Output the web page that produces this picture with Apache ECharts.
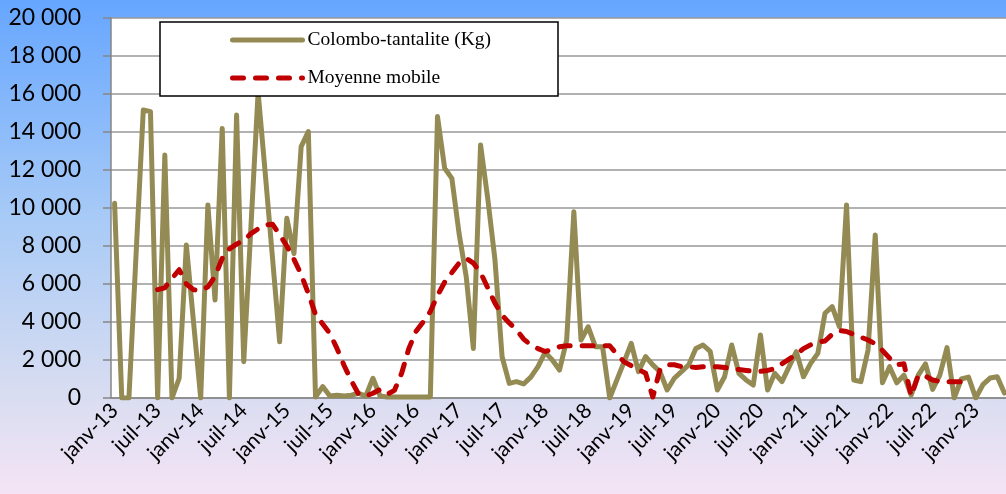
<!DOCTYPE html>
<html>
<head>
<meta charset="utf-8">
<script src="https://cdn.jsdelivr.net/npm/echarts@6/dist/echarts.min.js"></script>
<style>
  html, body { margin: 0; padding: 0; }
  #chart { width: 1006px; height: 494px; }
</style>
</head>
<body>
<div id="chart"></div>
<script>
// mois (format Excel mmm-aa)
var monthNames = ['janv', 'févr', 'mars', 'avr', 'mai', 'juin', 'juil', 'août', 'sept', 'oct', 'nov', 'déc']
var years = ['13', '14', '15', '16', '17', '18', '19', '20', '21', '22', '23']
var nbMonths = 125 // janv-13 -> mai-23

// production mensuelle (Kg)
var production = [
  10250, 0, 0, 7600, 15160, 15070, 0, 12790, 0, 1040, 8050, 4000,
  0, 10160, 5160, 14190, 0, 14890, 1910, 9000, 16100, 11800, 7400, 2960,
  9460, 7600, 13230, 14020, 50, 600, 100, 150, 100, 150, 250, 100,
  1040, 100, 50, 50, 50, 50, 50, 50, 50, 14810, 12090, 11560,
  8670, 6390, 2610, 13320, 10500, 7300, 2170, 770, 860, 740, 1100, 1650,
  2400, 2000, 1470, 3050, 9800, 3050, 3750, 2700, 2700, 0, 950, 1900,
  2880, 1390, 2180, 1740, 1390, 420, 1040, 1390, 1740, 2610, 2790, 2450,
  420, 1120, 2790, 1300, 950, 680, 3320, 420, 1300, 860, 1650, 2440,
  1120, 1820, 2350, 4460, 4810, 3750, 10160, 950, 860, 2530, 8580, 800,
  1650, 800, 1200, 150, 1200, 1800, 450, 1200, 2650, 0, 1000, 1100,
  0, 700, 1050, 1120, 260
]

// moyenne mobile (de juil-13 à nov-22)
var moyenne = [
  null, null, null, null, null, null,
  5700, 5800, 6300, 6750, 6000, 5700,
  5650, 5850, 6400, 7350, 7850, 8100, 8300, 8650, 8900, 9100, 9150, 8600,
  8000, 7300, 6500, 5500, 4400, 3900, 3400, 2600, 1700, 900, 200, 100,
  250, 450, 200, 400, 1300, 2600, 3500, 4000, 4550, 5400, 6100, 6600,
  7100, 7350, 7100, 6600, 5800, 5000, 4350, 3950, 3600, 3100, 2800, 2600,
  2450, 2550, 2700, 2750, 2750, 2750, 2750, 2750, 2750, 2750, 2300, 1900,
  1700, 1500, 1300, 50, 1500, 1750, 1750, 1650, 1650, 1600, 1650, 1650,
  1650, 1600, 1550, 1500, 1450, 1400, 1400, 1450, 1550, 1800, 2050, 2300,
  2600, 2800, 2950, 3000, 3350, 3550, 3500, 3350, 3200, 3050, 2850, 2500,
  2100, 1750, 1800, 100, 1200, 1150, 950, 870, 860, 860, 860,
  null, null, null, null, null, null
]

var categories = []
for (var i = 0; i < nbMonths; i++) {
  categories.push(monthNames[i % 12] + '-' + years[Math.floor(i / 12)])
}

var chart = echarts.init(document.getElementById('chart'))

// espace comme séparateur de milliers
function fmtThousands(v) {
  return String(v).replace(/\B(?=(\d{3})+(?!\d))/g, ' ')
}

chart.setOption({
  animation: false,
  backgroundColor: new echarts.graphic.LinearGradient(0, 0, 0, 1, [
    { offset: 0, color: '#66a6ff' },
    { offset: 0.45, color: '#a9cbf6' },
    { offset: 0.8, color: '#d9ddf1' },
    { offset: 1, color: '#f4e4f5' }
  ]),
  grid: {
    left: 111,
    top: 18,
    width: 897,
    height: 380,
    show: true,
    backgroundColor: '#fff',
    borderWidth: 0,
    containLabel: false,
    outerBoundsMode: 'none'
  },
  legend: {
    orient: 'vertical',
    left: 230,
    top: 30,
    itemWidth: 70,
    itemHeight: 20,
    itemGap: 18,
    padding: 0,
    itemStyle: { opacity: 0 },
    lineStyle: { width: 5, cap: 'round' },
    textStyle: {
      fontFamily: 'Liberation Serif',
      fontSize: 19.5,
      color: '#000'
    },
    data: ['Colombo-tantalite (Kg)', 'Moyenne mobile']
  },
  graphic: [{
    type: 'rect',
    z: 3,
    shape: { x: 160, y: 22, width: 398, height: 74 },
    style: { fill: '#fff', stroke: '#000', lineWidth: 1.5 }
  }],
  xAxis: {
    type: 'category',
    data: categories,
    boundaryGap: true,
    axisLine: { lineStyle: { color: '#868686', width: 1.5 } },
    axisTick: {
      interval: 5,
      length: 8,
      lineStyle: { color: '#868686', width: 1.5 }
    },
    axisLabel: {
      interval: 5,
      rotate: 45,
      margin: 9,
      fontFamily: 'Lato',
      fontSize: 21,
      color: '#000'
    },
    splitLine: { show: false }
  },
  yAxis: {
    type: 'value',
    min: 0,
    max: 20000,
    interval: 2000,
    axisLine: { show: true, lineStyle: { color: '#868686', width: 1.5 } },
    axisTick: {
      show: true,
      inside: false,
      length: 8,
      lineStyle: { color: '#868686', width: 1.5 }
    },
    axisLabel: {
      margin: 30,
      fontFamily: 'Lato',
      fontSize: 23,
      color: '#000',
      formatter: fmtThousands
    },
    splitLine: { lineStyle: { color: '#999', width: 1.5 } }
  },
  series: [
    {
      name: 'Colombo-tantalite (Kg)',
      type: 'line',
      data: production,
      symbol: 'none',
      z: 2,
      color: '#948a54',
      lineStyle: { color: '#948a54', width: 5, cap: 'round', join: 'round' }
    },
    {
      name: 'Moyenne mobile',
      type: 'line',
      data: moyenne,
      symbol: 'none',
      z: 2,
      color: '#c00000',
      lineStyle: { color: '#c00000', width: 5, type: [11, 12], cap: 'round', join: 'round' }
    }
  ]
})
</script>
</body>
</html>
